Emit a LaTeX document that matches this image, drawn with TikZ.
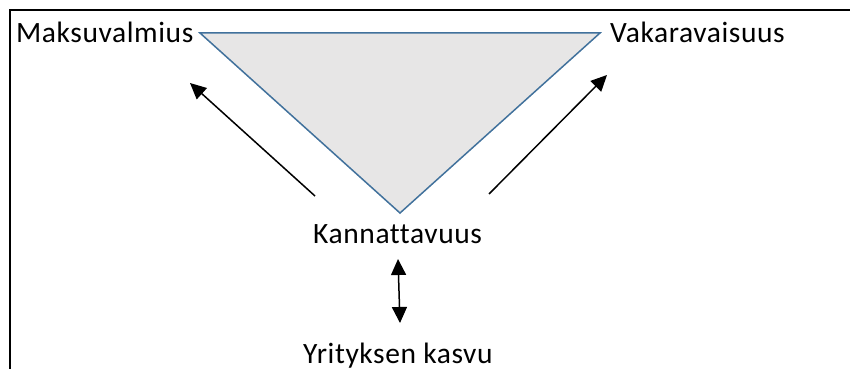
\documentclass[tikz,border=0pt]{standalone}
\usepackage{fontspec}
\setmainfont{Carlito}[Ligatures={NoCommon},LetterSpace=2]
\usetikzlibrary{arrows.meta}
\definecolor{triborder}{HTML}{41719C}
\definecolor{trifill}{HTML}{E7E6E6}
\begin{document}
\begin{tikzpicture}[x=1pt,y=1pt,
  lbl/.style={inner sep=0pt,anchor=base west,font=\fontsize{29.5}{35}\selectfont},
  arr/.style={line width=1.5pt,-{Triangle[length=16pt,width=15pt]}},
  darr/.style={line width=1.5pt,{Triangle[length=16pt,width=15pt]}-{Triangle[length=16pt,width=15pt]}}]
\useasboundingbox (0,0) rectangle (850,-369);
% frame
\draw[line width=1.8pt] (850,-10) -- (10,-10) -- (10,-369);
% triangle
\coordinate (tl) at (200,-33);
\coordinate (tr) at (600,-33);
\coordinate (tb) at (400,-213);
\draw[fill=trifill,draw=triborder,line width=1.5pt,line join=miter] (tl) -- (tr) -- (tb) -- cycle;
% labels
\node[lbl] (maks) at (16,-43) {Maksuvalmius};
\node[lbl] (vaka) at (610,-43) {Vakaravaisuus};
\node[lbl] (kann) at (313,-243) {Kannattavuus};
\node[lbl] (yrit) at (303,-363) {Yrityksen kasvu};
% arrows
\coordinate (la0) at (315,-196);
\coordinate (la1) at (190,-83);
\coordinate (ra0) at (489,-194);
\coordinate (ra1) at (607,-75);
\coordinate (da0) at (398,-259);
\coordinate (da1) at (400,-323);
\draw[arr] (la0) -- (la1);
\draw[arr] (ra0) -- (ra1);
\draw[darr] (da0) -- (da1);
\end{tikzpicture}
\end{document}
